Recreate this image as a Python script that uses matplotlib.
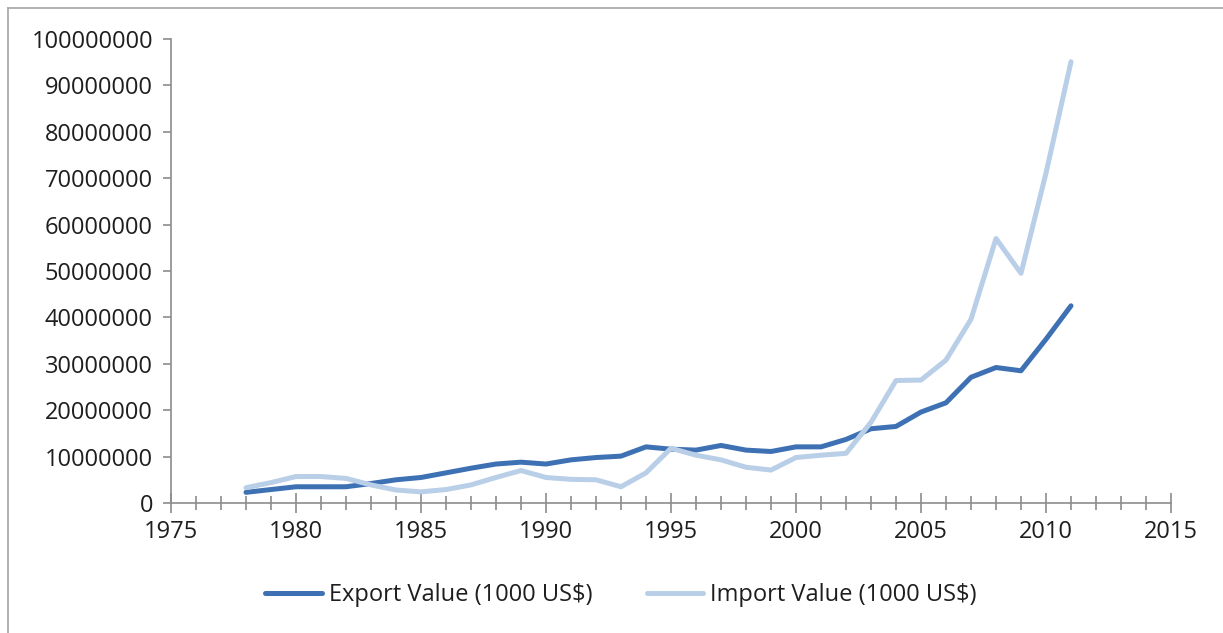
import matplotlib
matplotlib.use("Agg")
import matplotlib.pyplot as plt
from matplotlib.lines import Line2D
from matplotlib.ticker import MultipleLocator, FuncFormatter

years = list(range(1978, 2012))
export_value = [2.3e6, 2.9e6, 3.5e6, 3.5e6, 3.5e6, 4.2e6, 5.0e6, 5.5e6, 6.5e6, 7.5e6,
                8.4e6, 8.8e6, 8.4e6, 9.3e6, 9.8e6, 10.1e6, 12.1e6, 11.6e6, 11.4e6, 12.4e6,
                11.4e6, 11.1e6, 12.1e6, 12.1e6, 13.7e6, 16.0e6, 16.5e6, 19.6e6, 21.6e6, 27.1e6,
                29.2e6, 28.5e6, 35.3e6, 42.5e6]
import_value = [3.3e6, 4.4e6, 5.7e6, 5.7e6, 5.3e6, 3.9e6, 2.8e6, 2.4e6, 2.9e6, 3.9e6,
                5.5e6, 7.0e6, 5.5e6, 5.1e6, 5.0e6, 3.5e6, 6.5e6, 11.8e6, 10.3e6, 9.3e6,
                7.7e6, 7.1e6, 9.8e6, 10.3e6, 10.7e6, 17.4e6, 26.4e6, 26.5e6, 30.8e6, 39.6e6,
                57.0e6, 49.5e6, 71.1e6, 95.1e6]
series_labels = ["Export Value (1000 US$)", "Import Value (1000 US$)"]

plt.rcParams['font.family'] = ['Open Sans', 'DejaVu Sans']

W, H = 1223, 633
fig = plt.figure(figsize=(W / 100, H / 100), dpi=100)
ax = fig.add_axes([171 / W, 1 - 503 / H, (1171 - 171) / W, (503 - 39) / H])

c_exp = '#3E71B4'
c_imp = '#B9CEE7'
l1, = ax.plot(years, export_value, color=c_exp, lw=3.6, solid_capstyle='round', solid_joinstyle='round')
l2, = ax.plot(years, import_value, color=c_imp, lw=3.6, solid_capstyle='round', solid_joinstyle='round')

ax.set_xlim(1975, 2015)
ax.set_ylim(0, 100000000)
ax.xaxis.set_major_locator(MultipleLocator(5))
ax.xaxis.set_minor_locator(MultipleLocator(1))
ax.yaxis.set_major_locator(MultipleLocator(10000000))
ax.yaxis.set_major_formatter(FuncFormatter(lambda v, p: f"{int(round(v))}"))

gray = '#8C8C8C'
for s in ['top', 'right']:
    ax.spines[s].set_visible(False)
for s in ['left', 'bottom']:
    ax.spines[s].set_color(gray)
    ax.spines[s].set_linewidth(1.2)

fs = 17
ax.tick_params(axis='y', which='major', direction='out', length=6, width=1.2, color=gray,
               labelsize=fs, labelcolor='#1E1E1E', pad=7)
ax.tick_params(axis='x', which='major', direction='inout', length=14, width=1.2, color=gray,
               labelsize=fs, labelcolor='#1E1E1E', pad=5)
ax.tick_params(axis='x', which='minor', direction='inout', length=10, width=1.2, color=gray)

leg = fig.legend([l1, l2], series_labels, loc='center', bbox_to_anchor=(621 / W, 1 - 595 / H),
                 ncol=2, frameon=False, fontsize=fs, handlelength=2.4, handletextpad=0.3,
                 columnspacing=2.3)
for t in leg.get_texts():
    t.set_color('#1E1E1E')

# outer chart border (top and left visible)
fig.add_artist(Line2D([8 / W, 8 / W], [0, 1 - 8 / H], transform=fig.transFigure, color='#A6A6A6', lw=1.2))
fig.add_artist(Line2D([8 / W, 1], [1 - 8 / H, 1 - 8 / H], transform=fig.transFigure, color='#A6A6A6', lw=1.2))

fig.savefig('out.png', dpi=100)
